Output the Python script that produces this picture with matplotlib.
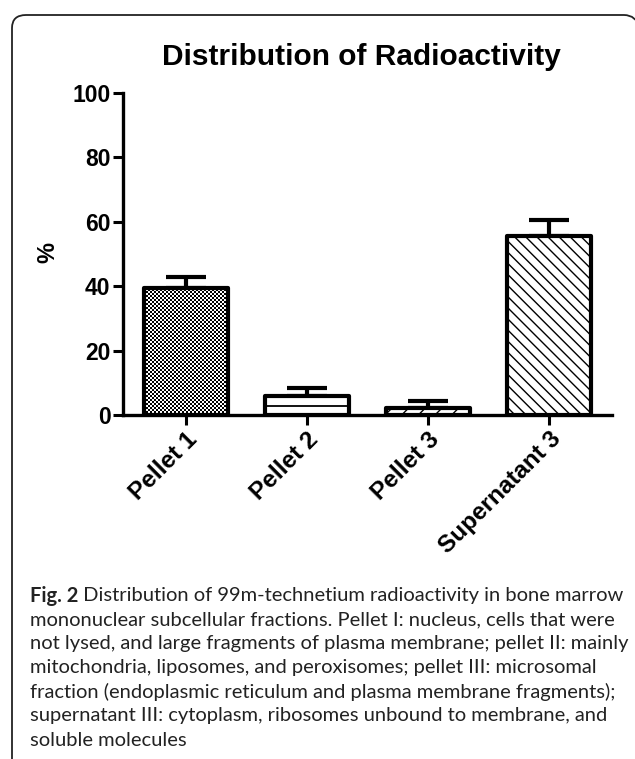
import numpy as np
import matplotlib
matplotlib.use('Agg')
import matplotlib.pyplot as plt
from matplotlib.path import Path
from matplotlib.patches import PathPatch

# ---------------- data ----------------
categories = ['Pellet 1', 'Pellet 2', 'Pellet 3', 'Supernatant 3']
values = [39.5, 5.8, 2.2, 55.5]
errors = [3.5, 2.6, 2.2, 5.0]
yticks = [0, 20, 40, 60, 80, 100]
title = 'Distribution of Radioactivity'
ylabel = '%'
caption_bold = 'Fig. 2'
caption_lines = [
    ' Distribution of 99m-technetium radioactivity in bone marrow',
    'mononuclear subcellular fractions. Pellet I: nucleus, cells that were',
    'not lysed, and large fragments of plasma membrane; pellet II: mainly',
    'mitochondria, liposomes, and peroxisomes; pellet III: microsomal',
    'fraction (endoplasmic reticulum and plasma membrane fragments);',
    'supernatant III: cytoplasm, ribosomes unbound to membrane, and',
    'soluble molecules',
]

plt.rcParams['font.family'] = ['Liberation Sans', 'DejaVu Sans']

W, H = 635, 759
fig = plt.figure(figsize=(W / 100, H / 100), dpi=100)
fig.patch.set_facecolor('white')

# frame (rounded box, clipped by the image edges)
def P(px, py):
    return (px / W, 1 - py / H)

verts = [P(12, 770), P(12, 28), P(12, 15), P(26, 15), P(624, 15), P(636, 15), P(640, 28)]
codes = [Path.MOVETO, Path.LINETO, Path.CURVE3, Path.CURVE3, Path.LINETO, Path.CURVE3, Path.CURVE3]
fig.patches.append(PathPatch(Path(verts, codes), transform=fig.transFigure,
                             facecolor='none', edgecolor='#222222', lw=1.3))

ax = fig.add_axes([123 / W, 1 - 415 / H, (612 - 123) / W, (415 - 93) / H])
ax.patch.set_visible(False)
x = np.arange(len(categories))

bars = ax.bar(x, values, width=0.69, color='white', edgecolor='black',
              linewidth=3, zorder=3)
hatches = [None, None, '//', '\\\\\\']
for b, h in zip(bars, hatches):
    b.set_joinstyle('round')
    if h:
        b.set_hatch(h)

ax.set_xlim(-0.52, 3.52)
ax.set_ylim(0, 100)

# checker texture for bar 1
b0 = bars[0]
b0.set_facecolor('none')
bb = b0.get_window_extent()
nx = max(1, int(round(bb.width / 2)))
ny = max(1, int(round(bb.height / 2)))
checker = np.indices((ny, nx)).sum(axis=0) % 2
im = ax.imshow(checker, cmap='gray', vmin=0, vmax=1, interpolation='nearest',
               extent=(b0.get_x(), b0.get_x() + b0.get_width(), 0, b0.get_height()),
               origin='lower', aspect='auto', zorder=2.5)
im.set_clip_path(b0)

# middle line in bar 2
b1 = bars[1]
ax.hlines(values[1] / 2, b1.get_x(), b1.get_x() + b1.get_width(),
          color='black', lw=1.3, zorder=3.2)

ax.errorbar(x, values, yerr=[np.zeros(len(values)), errors], fmt='none',
            ecolor='black', elinewidth=3, capsize=14.5, capthick=3, zorder=2)

ax.set_xlim(-0.52, 3.52)
ax.set_ylim(0, 100)
ax.set_yticks(yticks)
ax.set_xticks(x)
ax.set_xticklabels(categories, rotation=45, ha='right', rotation_mode='anchor',
                   fontsize=17.5, fontweight='bold')
ax.set_yticklabels([str(v) for v in yticks], fontsize=16.5, fontweight='bold')
for s in ['top', 'right']:
    ax.spines[s].set_visible(False)
for s in ['left', 'bottom']:
    ax.spines[s].set_linewidth(2.4)
ax.tick_params(width=2.2, length=7, pad=2)

fig.text(48 / W, 1 - 253 / H, ylabel, rotation=90, fontsize=17, fontweight='bold',
         ha='center', va='center')
fig.text(361 / W, 1 - 57 / H, title, fontsize=21.5, fontweight='bold',
         ha='center', va='center')

# caption
cap_font = ['Lato', 'DejaVu Sans']
renderer = fig.canvas.get_renderer()
x0 = 30
y0 = 596
dy = 24
fs = 14.5
t = fig.text(x0 / W, 1 - y0 / H, caption_bold, fontsize=fs, fontweight='bold',
             family=cap_font, color='#222222', va='center', ha='left')
wb = t.get_window_extent(renderer).width
for i, line in enumerate(caption_lines):
    xx = x0 + wb if i == 0 else x0
    fig.text(xx / W, 1 - (y0 + i * dy) / H, line, fontsize=fs,
             family=cap_font, color='#222222', va='center', ha='left')

fig.savefig('out.png', dpi=100)
